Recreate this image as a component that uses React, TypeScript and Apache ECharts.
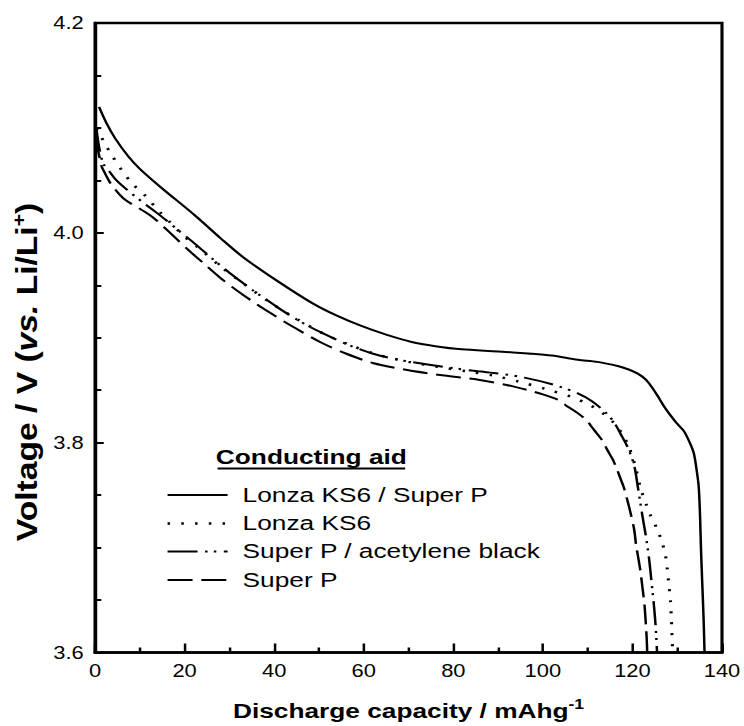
import React, { useEffect, useRef } from "react";
import * as echarts from "echarts";

// Discharge capacity (mAh/g) , voltage (V) pairs
const ks6SuperP: [number, number][] = [
  [0.9, 4.12], [2.5, 4.105], [4.5, 4.09], [7.4, 4.073], [10, 4.061], [14.8, 4.043],
  [22.2, 4.017], [28, 3.995], [33.3, 3.976], [41.1, 3.953], [48.5, 3.933], [54, 3.921],
  [59.6, 3.911], [65, 3.903], [70.7, 3.896], [76, 3.892], [81.9, 3.889], [90, 3.887],
  [96.7, 3.885], [102, 3.883], [107.8, 3.879], [112.2, 3.877], [116.7, 3.873], [119, 3.87],
  [121.1, 3.866], [123, 3.86], [124.8, 3.85], [126, 3.842], [127, 3.835], [128.5, 3.826],
  [130, 3.818], [131.5, 3.811], [132.8, 3.8], [133.7, 3.79], [134.3, 3.775], [134.8, 3.758],
  [135.1, 3.73], [135.3, 3.7], [135.6, 3.665], [135.9, 3.631], [136.1, 3.6],
];

const ks6: [number, number][] = [
  [0.4, 4.1], [2.2, 4.085], [3.9, 4.073], [5.9, 4.06], [8.3, 4.047], [11.3, 4.035],
  [14.2, 4.021], [17, 4.009], [20.1, 3.996], [23.3, 3.985], [28, 3.968], [33, 3.952],
  [39, 3.934], [45, 3.918], [51, 3.904], [57, 3.893], [63, 3.884], [70, 3.877], [77, 3.872],
  [83, 3.868], [88.9, 3.864], [94.8, 3.858], [100.7, 3.851], [106.8, 3.843], [109.9, 3.837],
  [112.8, 3.83], [115.6, 3.82], [117.8, 3.808], [119.3, 3.795], [120.6, 3.778], [121.8, 3.757],
  [123, 3.742], [124.1, 3.73], [125.6, 3.717], [126.7, 3.704], [127.4, 3.692], [127.8, 3.679],
  [128.1, 3.666], [128.5, 3.649], [128.7, 3.632], [128.8, 3.62], [128.9, 3.609], [129.0, 3.6],
];

const superPAcetylene: [number, number][] = [
  [0.3, 4.1], [0.9, 4.082], [1.85, 4.066], [3.3, 4.058], [4.8, 4.05], [8, 4.038], [11, 4.028],
  [13.5, 4.02], [15.9, 4.012], [19, 4.001], [22.2, 3.99], [26, 3.976], [30, 3.962], [35, 3.946],
  [41.1, 3.928], [45.2, 3.917], [50, 3.906], [56.7, 3.893], [61.9, 3.885], [67.8, 3.879],
  [75, 3.874], [80, 3.871], [85.6, 3.868], [90, 3.866], [95.9, 3.862], [102.6, 3.855],
  [107.8, 3.847], [110.8, 3.84], [113.7, 3.83], [115.8, 3.82], [117.4, 3.808], [119, 3.795],
  [120.4, 3.778], [121.2, 3.758], [122.2, 3.731], [123, 3.711], [123.7, 3.69], [124.2, 3.67],
  [124.8, 3.645], [125.2, 3.624], [125.5, 3.6],
];

const superP: [number, number][] = [
  [0.1, 4.09], [1, 4.072], [1.5, 4.063], [2.2, 4.057], [3.5, 4.047], [5.6, 4.036], [7.2, 4.03],
  [10, 4.023], [12.2, 4.017], [13.7, 4.012], [16, 4.003], [18.5, 3.993], [21, 3.983],
  [23.7, 3.973], [28, 3.957], [33, 3.941], [39, 3.924], [44.4, 3.91], [50.7, 3.895], [56, 3.885],
  [62, 3.876], [70, 3.869], [78, 3.864], [85.6, 3.86], [91.9, 3.855], [96.7, 3.85], [100, 3.846],
  [103.3, 3.841], [105, 3.836], [107.5, 3.829], [109.6, 3.822], [111.1, 3.814], [112.2, 3.808],
  [113.3, 3.802], [114.4, 3.793], [115.6, 3.784], [116.6, 3.774], [117.4, 3.765], [118.1, 3.757],
  [119.3, 3.738], [120.4, 3.717], [120.8, 3.703], [121.7, 3.68], [122.3, 3.66], [122.7, 3.645],
  [123, 3.627], [123.2, 3.612], [123.3, 3.6],
];

const seriesNames = ["Lonza KS6 / Super P", "Lonza KS6", "Super P / acetylene black", "Super P"];
const legendTitle = "Conducting aid";
const yTitle = "{b|Voltage / V (}{i|vs.}{b| Li/Li}{sup|+}{b|)}";
const xTitle = "{b|Discharge capacity / mAhg}{sup|-1}";

const W = 595;
const H = 726;
const SX = 744 / W;
const FONT = "'Liberation Sans', Arial, Helvetica, sans-serif";

const dashes: any[] = ["solid", [2, 9], [24, 6, 2, 5, 2, 6], [20, 7]];
const widths = [2, 2.5, 2, 2];

export default function App() {
  const ref = useRef<HTMLDivElement>(null);
  useEffect(() => {
    const chart = echarts.init(ref.current!, null, { renderer: "svg" });
    const datasets = [ks6SuperP, ks6, superPAcetylene, superP];
    const legendX1 = 134;
    const legendX2 = 182;
    const legendTextX = 194;
    const legendYs = [495, 523.5, 551.5, 580];
    const graphics: any[] = [
      {
        type: "text",
        x: 21,
        y: 372,
        rotation: Math.PI / 2,
        scaleX: 1.4,
        style: {
          text: yTitle,
          fill: "#000",
          textAlign: "center",
          textVerticalAlign: "middle",
          rich: {
            b: { fontFamily: FONT, fontWeight: "bold", fontSize: 24, lineHeight: 28, fill: "#000" },
            i: { fontFamily: FONT, fontWeight: "bold", fontStyle: "italic", fontSize: 24, lineHeight: 28, fill: "#000" },
            sup: { fontFamily: FONT, fontWeight: "bold", fontSize: 15, lineHeight: 15, verticalAlign: "top", fill: "#000" },
          },
        },
      },
      {
        type: "text",
        x: 249,
        y: 456,
        style: {
          text: legendTitle,
          font: `bold 21px ${FONT}`,
          fill: "#000",
          textAlign: "center",
          textVerticalAlign: "middle",
        },
      },
      {
        type: "line",
        shape: { x1: 174, y1: 468.5, x2: 324, y2: 468.5 },
        style: { stroke: "#000", lineWidth: 1.8 },
      },
    ];
    seriesNames.forEach((n, i) => {
      graphics.push({
        type: "line",
        shape: { x1: legendX1, y1: legendYs[i], x2: legendX2, y2: legendYs[i] },
        style: {
          stroke: "#000",
          lineWidth: widths[i],
          lineDash: dashes[i] === "solid" ? null : dashes[i],
        },
      });
      graphics.push({
        type: "text",
        x: legendTextX,
        y: legendYs[i] - 1,
        style: {
          text: n,
          font: `21px ${FONT}`,
          fill: "#000",
          textAlign: "left",
          textVerticalAlign: "middle",
        },
      });
    });

    const option: any = {
      animation: false,
      backgroundColor: "#fff",
      textStyle: { fontFamily: FONT, color: "#000" },
      grid: {
        left: 76,
        right: 15,
        top: 23,
        bottom: 73,
        show: true,
        borderColor: "#000",
        borderWidth: 2.5,
        containLabel: false,
      },
      xAxis: {
        type: "value",
        min: 0,
        max: 140,
        interval: 20,
        name: xTitle,
        nameLocation: "middle",
        nameGap: 45,
        nameTextStyle: {
          rich: {
            b: { fontFamily: FONT, fontWeight: "bold", fontSize: 21, lineHeight: 26, color: "#000" },
            sup: { fontFamily: FONT, fontWeight: "bold", fontSize: 14, lineHeight: 14, verticalAlign: "top", color: "#000" },
          },
        },
        axisLine: { show: true, lineStyle: { color: "#000", width: 2.5 } },
        axisTick: { show: true, inside: true, length: 9, lineStyle: { color: "#000", width: 2 } },
        minorTick: { show: true, splitNumber: 2, length: 5, lineStyle: { color: "#000", width: 2 } },
        axisLabel: { fontSize: 17.5, color: "#000", margin: 9, fontFamily: FONT },
        splitLine: { show: false },
        minorSplitLine: { show: false },
      },
      yAxis: {
        type: "value",
        min: 3.6,
        max: 4.2,
        interval: 0.2,
        axisLine: { show: true, lineStyle: { color: "#000", width: 2.5 } },
        axisTick: { show: true, inside: true, length: 7, lineStyle: { color: "#000", width: 2 } },
        minorTick: { show: true, splitNumber: 4, length: 5, lineStyle: { color: "#000", width: 2 } },
        axisLabel: {
          fontSize: 17.5,
          color: "#000",
          margin: 9,
          fontFamily: FONT,
          formatter: (v: number) => v.toFixed(1),
        },
        splitLine: { show: false },
        minorSplitLine: { show: false },
      },
      series: datasets.map((d, i) => ({
        type: "line",
        name: seriesNames[i],
        data: d,
        showSymbol: false,
        symbol: "none",
        smooth: 0.3,
        lineStyle: { color: "#000", width: widths[i], type: dashes[i] },
        z: 3,
      })),
      graphic: graphics,
    };
    chart.setOption(option);
    return () => chart.dispose();
  }, []);

  return (
    <div
      style={{
        position: "absolute",
        left: 0,
        top: 0,
        width: W,
        height: H,
        transform: `scaleX(${SX})`,
        transformOrigin: "0 0",
      }}
    >
      <div ref={ref} style={{ width: W, height: H }} />
    </div>
  );
}
